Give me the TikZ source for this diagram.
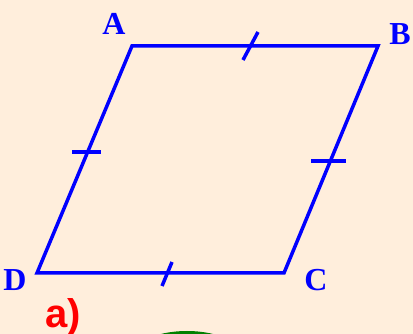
\documentclass[tikz,border=0pt]{standalone}
\usepackage{fontspec}
\setmainfont{Liberation Serif}
\newfontfamily\labelsans{Liberation Sans}
\usetikzlibrary{calc}
\definecolor{paper}{HTML}{FFEEDC}
\definecolor{edgeblue}{HTML}{0000FF}
\definecolor{tagred}{HTML}{FF0000}
\definecolor{leafgreen}{HTML}{008000}

\begin{document}
\begin{tikzpicture}[x=1pt,y=-1pt,
 edge/.style={edgeblue,line width=3.5pt,line join=miter},
 tick/.style={edgeblue,line width=3.5pt},
 vtx/.style={text=edgeblue,font=\fontsize{32}{32}\selectfont\bfseries,inner sep=0pt}]
\fill[paper] (0,0) rectangle (413,334);
\useasboundingbox (0,0) rectangle (413,334);
\coordinate (A) at (132,46);
\coordinate (B) at (378,46);
\coordinate (C) at (284,273);
\coordinate (D) at (37,273);
\draw[edge] (A)--(B)--(C)--(D)--cycle;
% tick marks
\draw[tick] (243,60)--(258,32);
\draw[tick] (162,286)--(172,262);
\draw[tick] (72,152)--(101,152);
\draw[tick] (311,161)--(346,161);
% vertex labels
\node[vtx] (la) at (114,24) {A};
\node[vtx] (lb) at (400,34) {B};
\node[vtx] (lc) at (316,280) {C};
\node[vtx] (ld) at (15,280) {D};
\node[text=tagred,font=\labelsans\fontsize{40}{40}\selectfont\bfseries,inner sep=0pt,anchor=base west] (tag) at (45,327) {a)};
\begin{scope}
\clip (0,0) rectangle (413,334);
\fill[leafgreen] (187,361) ellipse (60 and 30);
\end{scope}
\end{tikzpicture}
\end{document}
